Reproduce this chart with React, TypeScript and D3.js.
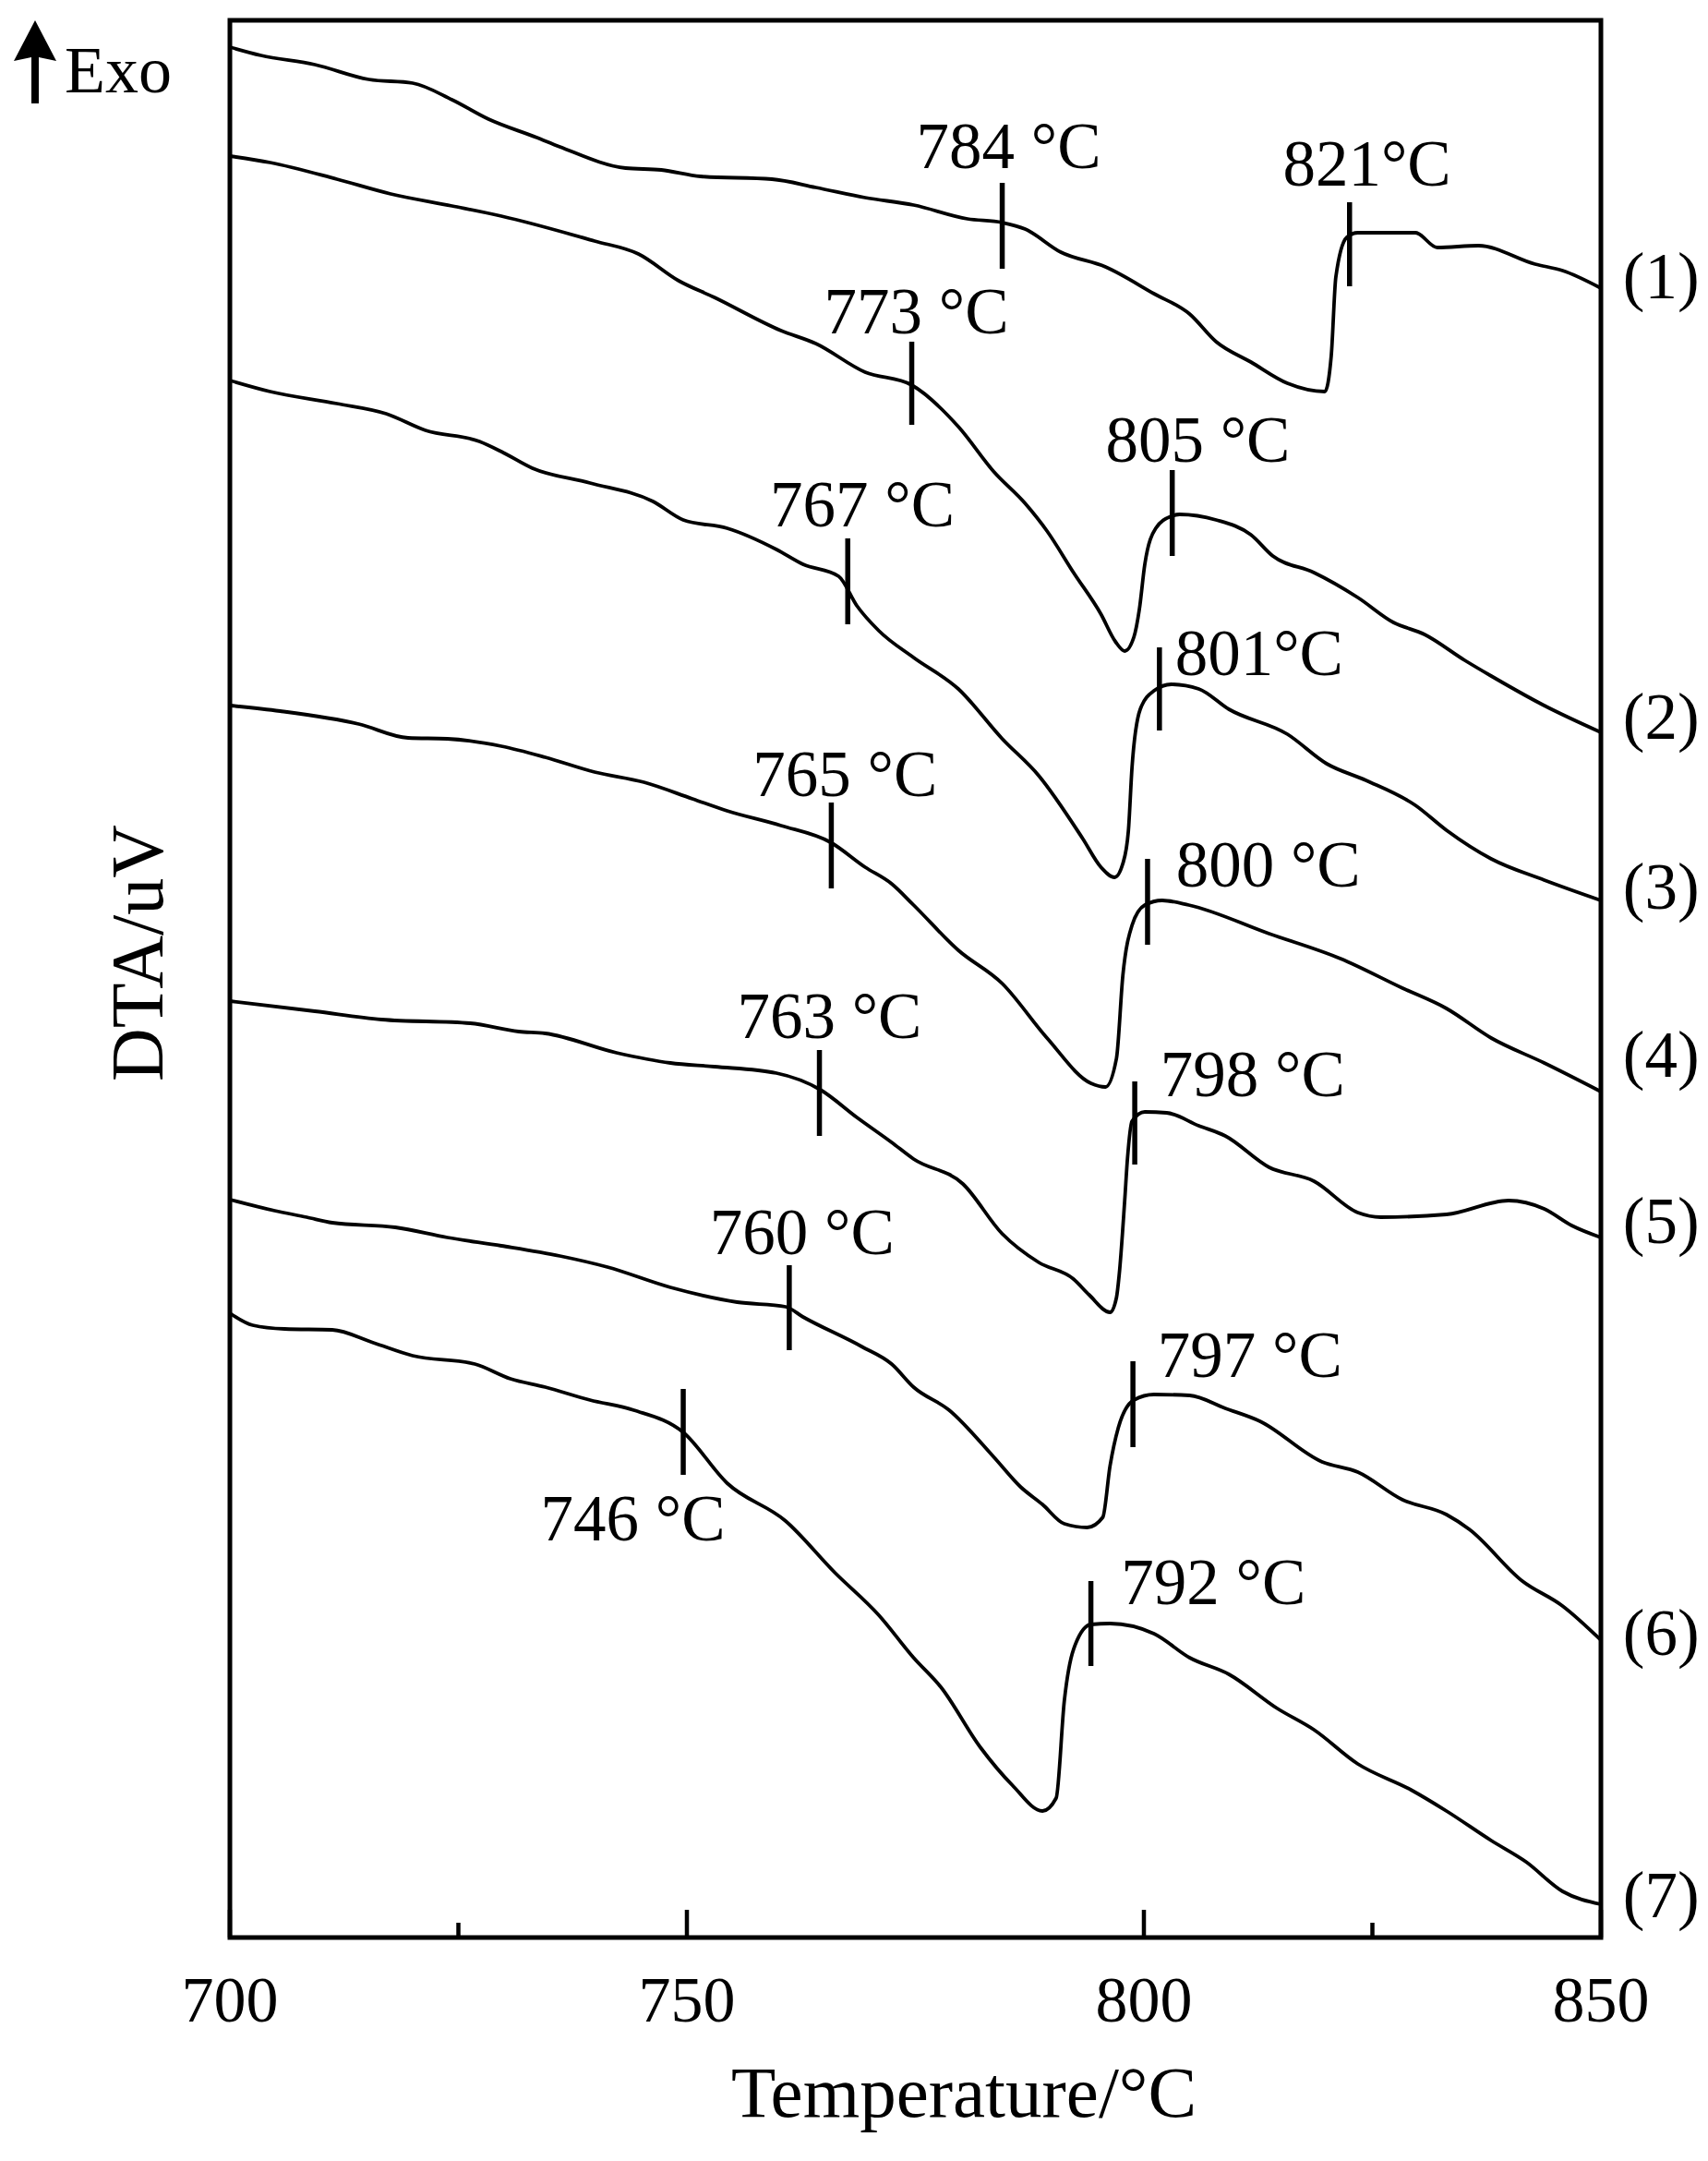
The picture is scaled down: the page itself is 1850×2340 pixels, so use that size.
import React from "react";
import * as d3 from "d3";

// ---- data (temperature °C, DTA signal in arbitrary µV offset units) ----
const curve1: [number, number][] = [
  [700, 204.7], [703.4, 203.8], [709.3, 202.8], [715.2, 201.2], [720.0, 200.8], [724.3, 199.0],
  [728.3, 196.9], [733.6, 194.9], [736.1, 193.9], [743.3, 191.6], [747.2, 191.4], [751.5, 190.7],
  [759.3, 190.4], [764.1, 189.5], [769.5, 188.4], [774.8, 187.6], [780.7, 186.1], [784.5, 185.7],
  [787.0, 185.0], [790.9, 182.5], [795.8, 180.9], [801.1, 178.0], [805.0, 175.8], [807.9, 172.8],
  [811.7, 170.6], [815.7, 168.3], [819.8, 167.4], [820.5, 171.3], [821.0, 179.8], [822.2, 184.1],
  [823.4, 184.6], [829.7, 184.6], [832.1, 183.0], [836.6, 183.2], [842.8, 181.2], [845.8, 180.5],
  [850, 178.6],
];
const curve2: [number, number][] = [
  [700, 192.9], [704.4, 192.2], [711.7, 190.4], [717.6, 188.8], [724.3, 187.5], [729.7, 186.4],
  [739.9, 183.7], [744.7, 182.3], [749.1, 179.4], [753.0, 177.6], [760.3, 174.0], [764.1, 172.6],
  [769.5, 169.5], [774.6, 168.1], [779.7, 163.6], [783.6, 158.7], [787.0, 155.3], [789.4, 152.3],
  [792.3, 147.8], [795.3, 143.3], [796.9, 140.3], [797.9, 139.3], [798.9, 140.8], [799.5, 143.8],
  [800.1, 148.7], [801.3, 152.6], [803.0, 153.9], [803.9, 154.1], [807.9, 153.5], [811.7, 151.9],
  [814.1, 149.6], [818.6, 147.8], [823.4, 145.1], [827.3, 142.4], [830.7, 141.1], [835.1, 138.3],
  [838.0, 136.6], [843.8, 133.4], [850, 130.5],
];
const curve3: [number, number][] = [
  [700, 168.6], [704.4, 167.4], [711.7, 166.1], [717.1, 165.0], [721.4, 163.2], [727.3, 162.0],
  [729.7, 160.9], [733.1, 159.1], [739.4, 157.5], [746.3, 155.5], [749.6, 153.5], [754.4, 152.6],
  [759.8, 150.3], [762.7, 148.7], [766.6, 147.4], [768.6, 144.2], [771.0, 141.5], [774.8, 138.6],
  [779.7, 135.2], [784.5, 129.8], [788.5, 125.8], [793.3, 119.0], [795.3, 115.9], [796.8, 114.8],
  [797.7, 116.3], [798.3, 119.8], [798.7, 126.7], [799.6, 133.0], [801.1, 135.0], [803.0, 135.7],
  [806.0, 135.2], [809.3, 133.0], [815.7, 130.3], [820.0, 127.1], [824.3, 125.3], [829.7, 122.6],
  [833.1, 119.9], [838.0, 116.8], [843.8, 114.5], [850, 112.3],
];
const curve4: [number, number][] = [
  [700, 133.4], [705.5, 132.8], [714.1, 131.4], [719.5, 129.9], [723.8, 129.8], [729.7, 129.0],
  [734.5, 127.8], [739.9, 126.2], [745.3, 125.1], [750.6, 123.3], [754.4, 122.0], [760.3, 120.4],
  [765.7, 118.6], [769.5, 115.9], [772.4, 114.1], [774.8, 111.8], [779.7, 106.9], [784.5, 103.3],
  [789.4, 97.4], [794.2, 92.5], [795.8, 92.1], [797.0, 95.2], [797.7, 104.2], [798.7, 109.6],
  [800.1, 111.8], [802.0, 112.3], [804.9, 111.8], [813.7, 108.7], [821.5, 106.0], [828.3, 102.8],
  [833.1, 100.6], [838.0, 97.4], [843.8, 94.7], [850, 91.6],
];
const curve5: [number, number][] = [
  [700, 101.4], [709.3, 100.3], [716.6, 99.4], [726.3, 99.0], [731.6, 98.1], [734.5, 97.9],
  [742.3, 95.8], [748.2, 94.7], [753.0, 94.3], [759.8, 93.6], [764.6, 91.8], [768.6, 88.8],
  [772.4, 86.1], [774.8, 84.3], [780.2, 81.6], [784.5, 76.2], [788.5, 73.1], [792.3, 71.3],
  [794.0, 69.6], [796.3, 67.7], [797.0, 69.3], [797.3, 71.8], [797.9, 79.8], [798.2, 84.3],
  [798.7, 88.4], [800.1, 89.4], [802.5, 89.3], [806.0, 87.9], [808.9, 86.8], [813.7, 83.4],
  [818.6, 81.9], [823.4, 78.5], [825.9, 78.0], [833.1, 78.3], [839.9, 79.8], [843.8, 78.9],
  [846.8, 77.1], [850, 75.8],
];
const curve6: [number, number][] = [
  [700, 79.9], [704.9, 78.7], [708.4, 78.0], [711.2, 77.4], [718.1, 76.9], [723.8, 75.8],
  [729.7, 74.9], [736.1, 73.8], [741.3, 72.6], [748.2, 70.4], [755.5, 68.8], [760.8, 68.3],
  [762.7, 67.2], [769.1, 64.0], [772.4, 62.1], [774.8, 59.6], [778.7, 57.1], [783.6, 52.0],
  [786.5, 48.8], [788.9, 46.9], [791.3, 44.8], [793.8, 44.4], [795.5, 45.5], [796.3, 51.1],
  [797.2, 55.2], [798.9, 58.2], [801.1, 58.8], [805.0, 58.7], [808.9, 57.3], [812.7, 55.9],
  [819.5, 51.5], [823.4, 50.4], [828.3, 47.4], [833.1, 45.8], [835.6, 44.2], [841.4, 38.6],
  [845.8, 35.9], [850, 32.2],
];
const curve7: [number, number][] = [
  [700, 67.6], [702.5, 66.3], [706.0, 65.9], [711.2, 65.8], [715.7, 64.4], [720.0, 63.0],
  [726.8, 62.1], [730.7, 60.5], [734.5, 59.6], [739.4, 58.2], [744.2, 57.1], [749.6, 54.7],
  [754.4, 49.2], [760.8, 45.1], [766.2, 39.5], [771.0, 34.9], [774.8, 30.3], [777.8, 27.1],
  [782.1, 20.6], [785.6, 16.5], [788.9, 13.7], [790.4, 15.1], [791.3, 25.7], [792.3, 31.2],
  [794.2, 33.9], [796.3, 34.0], [801.1, 32.9], [805.0, 30.3], [809.3, 28.5], [814.6, 24.8],
  [818.6, 22.5], [823.4, 18.8], [829.2, 16.0], [833.1, 13.7], [838.0, 10.5], [841.8, 8.2],
  [845.8, 5.0], [850, 3.6],
];
const curves = [curve1, curve2, curve3, curve4, curve5, curve6, curve7];

// series labels at the right edge
const seriesNames = ["(1)", "(2)", "(3)", "(4)", "(5)", "(6)", "(7)"];
const seriesLabelV = [177.5, 129.8, 111.4, 93.2, 75.2, 30.6, 2.2];
const seriesLabelT = 852.4;

// annotations: label text, marker temperature, marker top/bottom, label left temp, label baseline
const annotText = ["784 °C", "821°C", "773 °C", "805 °C", "767 °C", "801°C", "765 °C", "800 °C", "763 °C", "798 °C", "760 °C", "797 °C", "746 °C", "792 °C"];
const annotMarkT = [784.5, 822.5, 774.6, 803.1, 767.6, 801.7, 765.8, 800.4, 764.5, 799.0, 761.2, 798.8, 749.6, 794.2];
const annotMarkTop = [190.0, 187.9, 172.8, 158.9, 151.5, 139.7, 122.9, 116.8, 96.1, 92.7, 72.8, 62.4, 59.4, 38.6];
const annotMarkBot = [180.7, 178.8, 163.8, 149.6, 142.2, 130.7, 113.6, 107.5, 86.8, 83.7, 63.6, 53.1, 50.1, 29.4];
const annotLabelT = [775.1, 815.2, 765.0, 795.8, 759.1, 803.4, 757.2, 803.5, 755.5, 801.8, 752.5, 801.5, 734.0, 797.5];
const annotLabelV = [191.6, 189.7, 173.7, 159.8, 152.8, 136.7, 123.6, 113.8, 97.4, 91.1, 74.0, 60.7, 43.0, 36.1];

const xMajorTicks = [700, 750, 800, 850];
const xMinorTicks = [725, 825];

const W = 1850;
const H = 2340;
const L = 249, R = 1734, T = 22, B = 2098;
const FONT = "'Liberation Serif', 'Times New Roman', serif";

export default function App() {
  const x = d3.scaleLinear().domain([700, 850]).range([L, R]);
  const y = d3.scaleLinear().domain([0, 207.6]).range([B, T]);
  const line = d3
    .line<[number, number]>()
    .x((d) => x(d[0]))
    .y((d) => y(d[1]))
    .curve(d3.curveMonotoneX);

  return (
    <svg
      width={W}
      height={H}
      viewBox={`0 0 ${W} ${H}`}
      style={{ position: "absolute", left: 0, top: 0, background: "#fff" }}
    >
      <rect x={0} y={0} width={W} height={H} fill="#fff" />
      {/* curves */}
      {curves.map((c, i) => (
        <path key={i} d={line(c) || ""} fill="none" stroke="#000" strokeWidth={3.8} strokeLinejoin="round" />
      ))}
      {/* annotation markers */}
      {annotText.map((t, i) => (
        <g key={"a" + i}>
          <line
            x1={x(annotMarkT[i])}
            x2={x(annotMarkT[i])}
            y1={y(annotMarkTop[i])}
            y2={y(annotMarkBot[i])}
            stroke="#000"
            strokeWidth={5.5}
          />
          <text x={x(annotLabelT[i])} y={y(annotLabelV[i])} fontFamily={FONT} fontSize={71} fill="#000">
            {t}
          </text>
        </g>
      ))}
      {/* frame */}
      <rect x={L} y={T} width={R - L} height={B - T} fill="none" stroke="#000" strokeWidth={5} />
      {/* ticks (inward) */}
      {xMajorTicks.map((v) => (
        <line key={"M" + v} x1={x(v)} x2={x(v)} y1={B} y2={B - 30} stroke="#000" strokeWidth={4.5} />
      ))}
      {xMinorTicks.map((v) => (
        <line key={"m" + v} x1={x(v)} x2={x(v)} y1={B} y2={B - 16} stroke="#000" strokeWidth={4.5} />
      ))}
      {xMajorTicks.map((v) => (
        <text key={"t" + v} x={x(v)} y={2189} textAnchor="middle" fontFamily={FONT} fontSize={70} fill="#000">
          {v}
        </text>
      ))}
      {/* series labels */}
      {seriesNames.map((s, i) => (
        <text key={s} x={x(seriesLabelT)} y={y(seriesLabelV[i])} fontFamily={FONT} fontSize={71} fill="#000">
          {s}
        </text>
      ))}
      {/* axis titles */}
      <text x={1044} y={2292} textAnchor="middle" fontFamily={FONT} fontSize={79} fill="#000">
        Temperature/°C
      </text>
      <text
        transform={`translate(176, 1032) rotate(-90)`}
        textAnchor="middle"
        fontFamily={FONT}
        fontSize={80}
        fill="#000"
      >
        DTA/uV
      </text>
      {/* Exo arrow */}
      <path d="M38,22 L61,66 L42,62 L42,112 L34,112 L34,62 L15,66 Z" fill="#000" />
      <text x={70} y={100} fontFamily={FONT} fontSize={72} fill="#000">
        Exo
      </text>
    </svg>
  );
}
